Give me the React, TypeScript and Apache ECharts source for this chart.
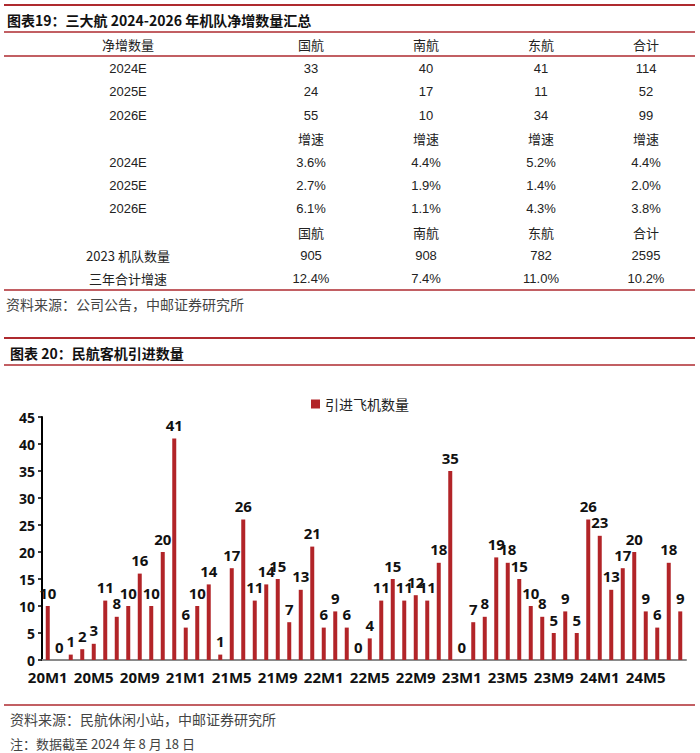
import React, { useEffect, useRef } from "react";
import * as echarts from "echarts";

// ---------- Table (图表19) data ----------
const tableTitle = "图表19：三大航 2024-2026 年机队净增数量汇总";
const airlines = ["国航", "南航", "东航", "合计"];
const netHeader = "净增数量";
const growthHeader = "增速";
const years = ["2024E", "2025E", "2026E"];
const netAdds = [
  [33, 40, 41, 114],
  [24, 17, 11, 52],
  [55, 10, 34, 99],
];
const growthRates = [
  ["3.6%", "4.4%", "5.2%", "4.4%"],
  ["2.7%", "1.9%", "1.4%", "2.0%"],
  ["6.1%", "1.1%", "4.3%", "3.8%"],
];
const fleetLabel = "2023 机队数量";
const fleet2023 = [905, 908, 782, 2595];
const threeYearLabel = "三年合计增速";
const threeYearGrowth = ["12.4%", "7.4%", "11.0%", "10.2%"];
const tableSource = "资料来源：公司公告，中邮证券研究所";

// ---------- Chart (图表20) data ----------
const chartTitle = "图表 20：民航客机引进数量";
const seriesName = "引进飞机数量";
const months = [
  "20M1", "20M2", "20M3", "20M4", "20M5", "20M6", "20M7", "20M8", "20M9", "20M10", "20M11", "20M12",
  "21M1", "21M2", "21M3", "21M4", "21M5", "21M6", "21M7", "21M8", "21M9", "21M10", "21M11", "21M12",
  "22M1", "22M2", "22M3", "22M4", "22M5", "22M6", "22M7", "22M8", "22M9", "22M10", "22M11", "22M12",
  "23M1", "23M2", "23M3", "23M4", "23M5", "23M6", "23M7", "23M8", "23M9", "23M10", "23M11", "23M12",
  "24M1", "24M2", "24M3", "24M4", "24M5", "24M6", "24M7", "24M8",
];
const introduced = [
  10, 0, 1, 2, 3, 11, 8, 10, 16, 10, 20, 41,
  6, 10, 14, 1, 17, 26, 11, 14, 15, 7, 13, 21,
  6, 9, 6, 0, 4, 11, 15, 11, 12, 11, 18, 35,
  0, 7, 8, 19, 18, 15, 10, 8, 5, 9, 5, 26,
  23, 13, 17, 20, 9, 6, 18, 9,
];
const chartSource = "资料来源：民航休闲小站，中邮证券研究所";
const chartNote = "注：数据截至 2024 年 8 月 18 日";

const RED = "#AE2A2F";
const BAR = "#B22428";
const CJK = '"Noto Sans CJK SC", sans-serif';
const NUM = '"Liberation Sans", Arial, sans-serif';

function txt(text: string, x: number, y: number, opts: any = {}) {
  const align = opts.align || "center";
  return {
    type: "text",
    x,
    y,
    silent: true,
    style: {
      text,
      fill: opts.fill || "#222",
      font: opts.font || `13px ${NUM}`,
      textAlign: align,
      textVerticalAlign: "middle",
      align,
      verticalAlign: "middle",
    },
  };
}

function hline(y: number, x1: number, x2: number, w: number, color = RED) {
  return {
    type: "line",
    silent: true,
    shape: { x1, y1: y, x2, y2: y },
    style: { stroke: color, lineWidth: w },
  };
}

export default function App() {
  const ref = useRef<HTMLDivElement>(null);

  useEffect(() => {
    if (!ref.current) return;
    const chart = echarts.init(ref.current, undefined, { renderer: "svg" });

    const colX = [128, 311, 426, 541, 646];
    const g: any[] = [];
    // table section
    g.push(hline(5, 4, 695, 2));
    g.push(txt(tableTitle, 7, 20, { align: "left", font: `bold 14px ${CJK}`, fill: "#111" }));
    g.push(hline(32, 4, 695, 1.5));
    g.push(txt(netHeader, colX[0], 44, { font: `13px ${CJK}` }));
    airlines.forEach((a, i) => g.push(txt(a, colX[i + 1], 44, { font: `13px ${CJK}` })));
    g.push(hline(56, 4, 695, 1.5));
    const rowY = [68, 91, 115, 138, 162, 185, 208, 232, 255, 278];
    years.forEach((yr, r) => {
      g.push(txt(yr, colX[0], rowY[r]));
      netAdds[r].forEach((v, i) => g.push(txt(String(v), colX[i + 1], rowY[r])));
    });
    airlines.forEach((_, i) => g.push(txt(growthHeader, colX[i + 1], rowY[3], { font: `13px ${CJK}` })));
    years.forEach((yr, r) => {
      g.push(txt(yr, colX[0], rowY[4 + r]));
      growthRates[r].forEach((v, i) => g.push(txt(v, colX[i + 1], rowY[4 + r])));
    });
    airlines.forEach((a, i) => g.push(txt(a, colX[i + 1], rowY[7], { font: `13px ${CJK}` })));
    g.push(txt(fleetLabel, colX[0], rowY[8], { font: `13px ${CJK}` }));
    fleet2023.forEach((v, i) => g.push(txt(String(v), colX[i + 1], rowY[8])));
    g.push(txt(threeYearLabel, colX[0], rowY[9], { font: `13px ${CJK}` }));
    threeYearGrowth.forEach((v, i) => g.push(txt(v, colX[i + 1], rowY[9])));
    g.push(hline(290, 4, 695, 1.5));
    g.push(txt(tableSource, 6, 304, { align: "left", font: `14px ${CJK}`, fill: "#444" }));

    // chart section
    g.push(hline(338, 4, 695, 2));
    g.push(txt(chartTitle, 10, 353, { align: "left", font: `bold 14px ${CJK}`, fill: "#111" }));
    g.push(hline(365, 4, 695, 1.5));
    g.push(hline(705, 4, 695, 1.5));
    g.push(txt(chartSource, 10, 719, { align: "left", font: `14px ${CJK}`, fill: "#444" }));
    g.push(txt(chartNote, 10, 743, { align: "left", font: `13px ${CJK}`, fill: "#444" }));

    chart.setOption({
      animation: false,
      backgroundColor: "#fff",
      graphic: { elements: g },
      legend: {
        left: 306,
        top: 392,
        itemWidth: 9,
        itemHeight: 9,
        itemGap: 10,
        icon: "rect",
        textStyle: { fontFamily: CJK, fontSize: 14, color: "#222" },
        data: [seriesName],
      },
      grid: { left: 42, right: 14, top: 417, bottom: 93, containLabel: false },
      xAxis: {
        type: "category",
        data: months,
        axisLine: { show: true, lineStyle: { color: "#8a8a8a", width: 2 } },
        axisTick: { show: false },
        axisLabel: {
          interval: 3,
          color: "#111",
          fontFamily: '"Open Sans", sans-serif',
          fontWeight: "bold",
          fontSize: 15,
          margin: 9,
        },
      },
      yAxis: {
        type: "value",
        min: 0,
        max: 45,
        interval: 5,
        splitLine: { show: false },
        axisLine: { show: true, lineStyle: { color: "#000", width: 2 } },
        axisTick: { show: true, length: 4, lineStyle: { color: "#000", width: 1.5 } },
        axisLabel: {
          color: "#111",
          fontFamily: '"Open Sans", sans-serif',
          fontWeight: "bold",
          fontSize: 14,
          margin: 7,
        },
      },
      series: [
        {
          name: seriesName,
          type: "bar",
          data: introduced,
          barWidth: 4,
          itemStyle: { color: BAR },
          label: {
            show: true,
            position: "top",
            distance: 6,
            color: "#111",
            fontFamily: '"Open Sans", sans-serif',
            fontWeight: "bold",
            fontSize: 15,
          },
        },
      ],
    });

    return () => chart.dispose();
  }, []);

  return (
    <div
      ref={ref}
      style={{ position: "fixed", left: 0, top: 0, width: 700, height: 753, background: "#fff" }}
    />
  );
}
